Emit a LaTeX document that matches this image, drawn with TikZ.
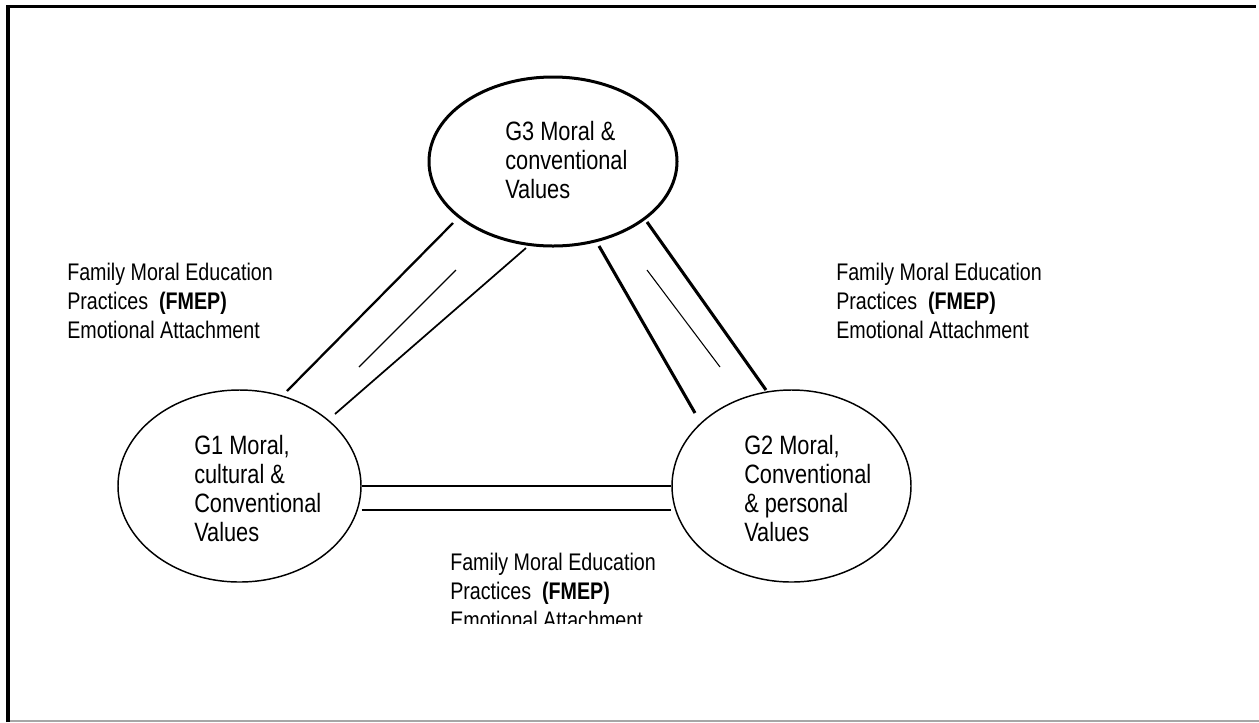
\documentclass[tikz,border=0pt]{standalone}
\usepackage{fontspec}
\setmainfont{Liberation Sans}[FakeStretch=0.82]
\usetikzlibrary{shapes.geometric}

\tikzset{
  group/.style={draw, ellipse, inner sep=0pt},
  grouptext/.style={anchor=base west, align=left, inner sep=0pt,
    font=\fontsize{19.9}{21.6}\selectfont},
  linktext/.style={anchor=base west, align=left, inner sep=0pt,
    font=\fontsize{18}{21.6}\selectfont},
}

\begin{document}
\begin{tikzpicture}[x=0.75pt, y=-0.75pt]
    \useasboundingbox (0,0) rectangle (1259,722);
    % frame
    \draw [line width=2.6pt] (8,722) -- (8,6.7) -- (1256,6.7);
    \draw [line width=1.2pt, gray!70] (10,721) -- (1259,721);

    % the three generations
    \node [group, line width=2.25pt, minimum width=186pt, minimum height=126.75pt] (g3) at (553,161.5) {};
    \node [group, line width=1.1pt, minimum width=182.25pt, minimum height=144pt] (g1) at (239.5,486) {};
    \node [group, line width=1.1pt, minimum width=179.25pt, minimum height=144pt] (g2) at (791.5,486) {};
    \node [grouptext] (t3) at (505,198) {G3 Moral \&\\conventional\\Values};
    \node [grouptext] (t1) at (194,541) {G1 Moral,\\cultural \&\\Conventional\\Values};
    \node [grouptext] (t2) at (744,541) {G2 Moral,\\Conventional\\\& personal\\Values};

    % links G1 -- G3
    \coordinate (a1) at (287,391); \coordinate (a3) at (453,223);
    \coordinate (b1) at (335,414); \coordinate (b3) at (526,248);
    \coordinate (m1) at (359,367); \coordinate (m3) at (456,270);
    \draw [line width=1.7pt] (a1) -- (a3);
    \draw [line width=1.3pt] (b1) -- (b3);
    \draw [line width=1pt] (m1) -- (m3);

    % links G2 -- G3
    \coordinate (c3) at (599,246); \coordinate (c2) at (695,413);
    \coordinate (d3) at (647,222); \coordinate (d2) at (766,390);
    \coordinate (n3) at (647,270); \coordinate (n2) at (720,367);
    \draw [line width=2.3pt] (c3) -- (c2);
    \draw [line width=2.3pt] (d3) -- (d2);
    \draw [line width=0.8pt] (n3) -- (n2);

    % links G1 -- G2
    \draw [line width=1.3pt] (g1.east) -- (g2.west);
    \draw [line width=1.3pt] ([yshift=-18pt]g1.east) -- ([yshift=-18pt]g2.west);

    % labels
    \node [linktext] (l13) at (67,338) {Family Moral Education\\Practices\ \ \textbf{(FMEP)}\\Emotional Attachment};
    \node [linktext] (l23) at (836,338) {Family Moral Education\\Practices\ \ \textbf{(FMEP)}\\Emotional Attachment};
    \begin{scope}
        \clip (0,0) rectangle (1259,623);
        \node [linktext] (l12) at (450,628) {Family Moral Education\\Practices\ \ \textbf{(FMEP)}\\Emotional Attachment};
    \end{scope}
\end{tikzpicture}
\end{document}
